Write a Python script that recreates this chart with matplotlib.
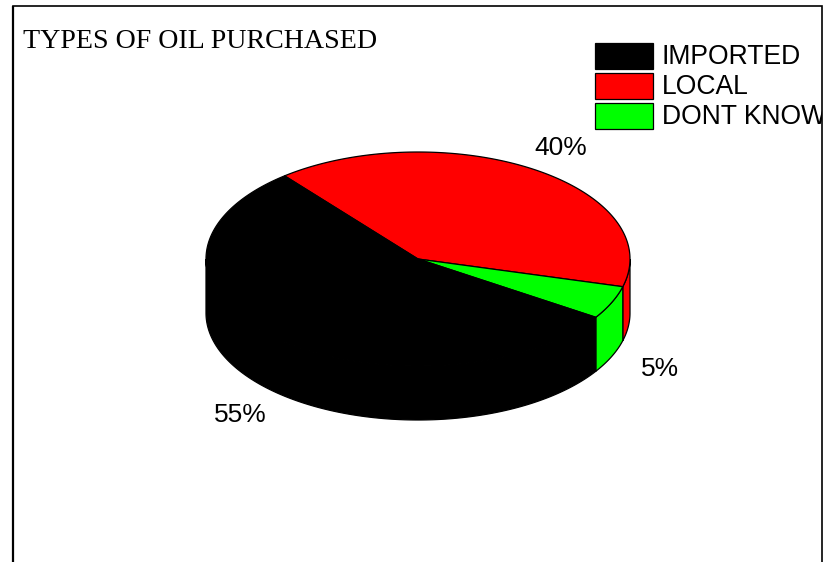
import numpy as np
import matplotlib
matplotlib.use("Agg")
import matplotlib.pyplot as plt
from matplotlib.patches import Polygon, Rectangle

title = "TYPES OF OIL PURCHASED"
categories = ["IMPORTED", "LOCAL", "DONT KNOW"]
values = [55, 40, 5]
colors = ["#000000", "#ff0000", "#00ff00"]
pct_labels = ["55%", "40%", "5%"]

W, H = 824, 562
fig = plt.figure(figsize=(W / 100, H / 100), dpi=100)
ax = fig.add_axes([0, 0, 1, 1])
ax.set_xlim(0, W)
ax.set_ylim(H, 0)
ax.axis("off")

# Frame (open at the bottom)
ax.plot([13.5, 13.5, 822, 822], [H, 5.5, 5.5, H], color="#000000", lw=1.2,
        solid_joinstyle="miter", solid_capstyle="butt", zorder=5)
ax.plot([13.5, 13.5], [5.5, H], color="#000000", lw=1.6, solid_capstyle="butt", zorder=5)

cx, cy, rx, ry, depth = 418, 259, 212, 107, 54
start_local = 129.0  # local slice starts here and runs clockwise


def arc(a0, a1, dy=0.0, n=200):
    t = np.radians(np.linspace(a0, a1, n))
    return np.column_stack([cx + rx * np.cos(t), cy - ry * np.sin(t) + dy])


# Slice angular extents, clockwise from the start angle: LOCAL, DONT KNOW, IMPORTED
order = [1, 2, 0]
spans = {}
a = start_local
total = sum(values)
for i in order:
    sweep = 360.0 * values[i] / total
    spans[i] = (a, a - sweep)
    a -= sweep

# Side walls: only the part of each slice on the front half (angles -180..0)
for i in order:
    a0, a1 = spans[i]
    hi = min(a0, 0.0)
    lo = max(a1, -180.0)
    if hi > lo:
        top = arc(hi, lo)
        bottom = arc(lo, hi, dy=depth)
        ax.add_patch(Polygon(np.vstack([top, bottom]), closed=True,
                             facecolor=colors[i], edgecolor="#000000", lw=0.9, zorder=2))

# Top faces
for i in order:
    a0, a1 = spans[i]
    pts = np.vstack([[cx, cy], arc(a0, a1)])
    ax.add_patch(Polygon(pts, closed=True, facecolor=colors[i],
                         edgecolor="#000000", lw=0.9, joinstyle="round", zorder=3))

# Title
ax.text(23, 42, title, family="Liberation Serif", fontsize=20.2, color="#000000",
        ha="left", va="center")

# Legend
clip_rect = Rectangle((0, 0), 822, H, transform=ax.transData)
for k, (name, col) in enumerate(zip(categories, colors)):
    y0 = 43 + 30 * k
    ax.add_patch(Rectangle((595.5, y0), 58, 26, facecolor=col, edgecolor="#000000", lw=0.9, zorder=3))
    t = ax.text(662, y0 + 13.5, name, family="Liberation Sans", fontsize=19.1, color="#000000",
                ha="left", va="center")
    t.set_clip_on(True)
    t.set_clip_box(clip_rect.get_window_extent)  if False else None
    t.set_clip_path(clip_rect)

# Percentage labels
pct_pos = [(240, 415), (561, 148), (660, 369)]
for label, (x, y) in zip(pct_labels, pct_pos):
    ax.text(x, y, label, family="Liberation Sans", fontsize=19, color="#000000",
            ha="center", va="center")

fig.savefig("out.png", dpi=100)
